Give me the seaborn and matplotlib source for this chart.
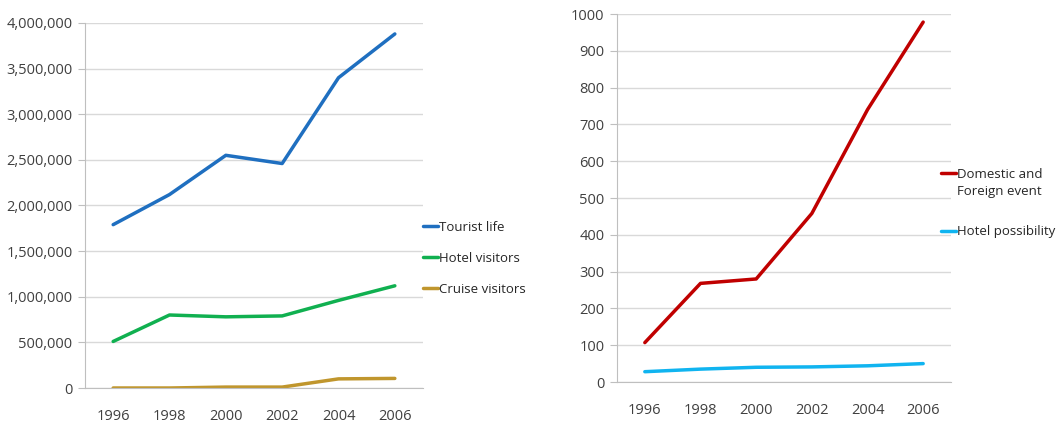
import pandas as pd
import matplotlib
matplotlib.use("Agg")
import matplotlib.pyplot as plt
from matplotlib.ticker import FuncFormatter, FixedLocator
import seaborn as sns

years = ["1996", "1998", "2000", "2002", "2004", "2006"]
tourist_life = [1790000, 2120000, 2550000, 2460000, 3400000, 3880000]
hotel_visitors = [510000, 800000, 780000, 790000, 960000, 1120000]
cruise_visitors = [0, 0, 10000, 10000, 100000, 105000]
domestic_foreign = [107, 268, 280, 458, 740, 978]
hotel_possibility = [28, 35, 40, 41, 44, 50]

left_series = {"Tourist life": tourist_life, "Hotel visitors": hotel_visitors,
               "Cruise visitors": cruise_visitors}
right_series = {"Domestic and": domestic_foreign, "Hotel possibility": hotel_possibility}
left_colors = ["#1F6FC0", "#10B050", "#C0962D"]
right_colors = ["#C00000", "#10B4F0"]

sns.set_style("white")
plt.rcParams['font.family'] = ['Open Sans', 'DejaVu Sans']
plt.rcParams['font.size'] = 9

def long_form(series):
    rows = []
    for name, vals in series.items():
        for i, v in enumerate(vals):
            rows.append({"pos": i, "year": years[i], "value": v, "series": name})
    return pd.DataFrame(rows)

fig = plt.figure(figsize=(10.63, 4.23), dpi=100)
ax1 = fig.add_axes([85 / 1063, 35 / 423, 338 / 1063, 365 / 423])
ax2 = fig.add_axes([617 / 1063, 41 / 423, 334 / 1063, 368 / 423])

def style_axis(ax, ymax, step, fmt):
    ax.set_xlim(-0.5, 5.5)
    ax.set_ylim(0, ymax)
    ax.set_yticks(range(0, ymax + 1, step))
    ax.yaxis.set_major_formatter(FuncFormatter(fmt))
    ax.set_xticks(range(6))
    ax.set_xticklabels(years)
    ax.xaxis.set_minor_locator(FixedLocator([i - 0.5 for i in range(7)]))
    ax.tick_params(axis="x", which="major", length=0, pad=15, labelsize=10.5, colors="#404040")
    ax.tick_params(axis="x", which="minor", length=5, color="#BFBFBF", direction="out")
    ax.tick_params(axis="y", length=5, color="#BFBFBF", pad=4, labelsize=10.5,
                   labelcolor="#404040", left=True)
    ax.grid(axis="y", color="#D9D9D9", linewidth=1)
    ax.set_axisbelow(True)
    for s in ["top", "right"]:
        ax.spines[s].set_visible(False)
    for s in ["left", "bottom"]:
        ax.spines[s].set_color("#BFBFBF")
    ax.set_xlabel("")
    ax.set_ylabel("")

df1 = long_form(left_series)
sns.lineplot(data=df1, x="pos", y="value", hue="series", palette=left_colors,
             linewidth=2.5, ax=ax1, legend=True)
style_axis(ax1, 4000000, 500000, lambda v, p: f"{int(v):,}")
ax1.legend(loc="upper left", bbox_to_anchor=(423 / 1063, 1 - 221 / 423),
           bbox_transform=fig.transFigure, frameon=False, handlelength=1.1,
           handletextpad=0.1, labelspacing=1.35, fontsize=9.5, borderpad=0,
           borderaxespad=0)

df2 = long_form(right_series)
sns.lineplot(data=df2, x="pos", y="value", hue="series", palette=right_colors,
             linewidth=2.5, ax=ax2, legend=True)
style_axis(ax2, 1000, 100, lambda v, p: f"{int(v)}")
ax2.legend(loc="upper left", bbox_to_anchor=(941 / 1063, 1 - 168 / 423),
           bbox_transform=fig.transFigure, frameon=False, handlelength=1.1,
           handletextpad=0.1, labelspacing=3.35, fontsize=9.5, borderpad=0,
           borderaxespad=0)
fig.text(957 / 1063, 1 - 191 / 423, "Foreign event", fontsize=9.5, va="center",
         ha="left")

fig.savefig("out.png", dpi=100)
